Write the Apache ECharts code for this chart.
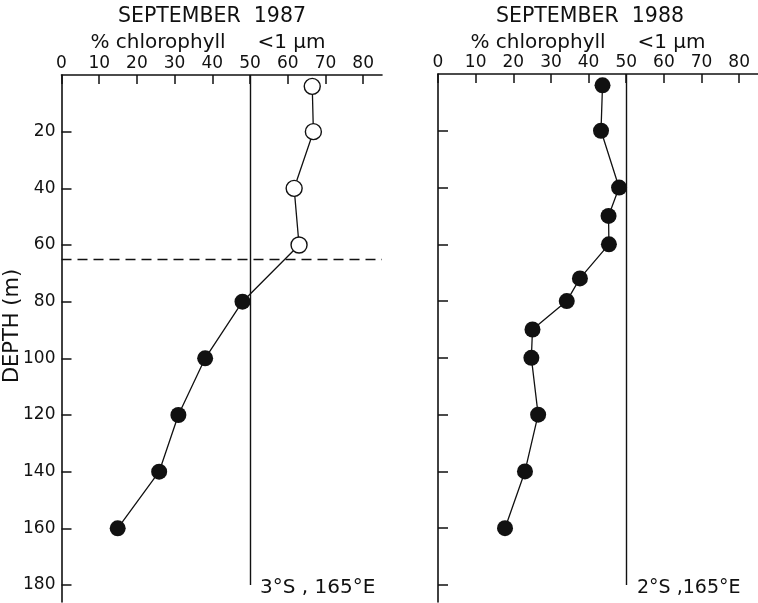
<!DOCTYPE html>
<html>
<head>
<meta charset="utf-8">
<script src="https://cdn.jsdelivr.net/npm/echarts@6/dist/echarts.min.js"></script>
<style>
html,body{margin:0;padding:0;background:#fff;}
#chart{width:758px;height:603px;}
</style>
</head>
<body>
<div id="chart"></div>
<script>
// ---- data ----
const depth1987 = [4, 20, 40, 60, 80, 100, 120, 140, 160];
const pct1987   = [66.5, 66.8, 61.7, 63.0, 48.0, 38.1, 31.0, 25.9, 14.9];
const open1987  = [true, true, true, true, false, false, false, false, false];

const depth1988 = [4, 20, 40, 50, 60, 72, 80, 90, 100, 120, 140, 160];
const pct1988   = [43.7, 43.3, 48.1, 45.3, 45.4, 37.7, 34.2, 25.1, 24.8, 26.6, 23.1, 17.8];

const xTicks = [0, 10, 20, 30, 40, 50, 60, 70, 80];
const yTicks = [20, 40, 60, 80, 100, 120, 140, 160, 180];
const refPct = 50;
const refDepthEnd = 180;
const mixedLayer1987 = 65;

const titles = ['SEPTEMBER  1987', 'SEPTEMBER  1988'];
const subTitle = '% chlorophyll     <1 μm';
const stations = ['3°S , 165°E', '2°S ,165°E'];

// ---- chart ----
const font = 'DejaVu Sans';
const black = '#111';

function xAxisDef(gi) {
  return {
    gridIndex: gi, type: 'value', position: 'top', min: 0, max: 85,
    axisLine: { show: true, onZero: false, lineStyle: { color: black, width: 1.6 } },
    axisTick: { show: true, inside: true, length: 9, customValues: xTicks, lineStyle: { color: black, width: 1.5 } },
    axisLabel: { show: true, customValues: xTicks, margin: 3, color: black, fontSize: 17, fontFamily: font },
    splitLine: { show: false }
  };
}
function yAxisDef(gi, labels) {
  return {
    gridIndex: gi, type: 'value', inverse: true, min: 0, max: 186, position: 'left',
    axisLine: { show: true, onZero: false, lineStyle: { color: black, width: 1.6 } },
    axisTick: { show: true, inside: true, length: 10, customValues: yTicks, lineStyle: { color: black, width: 1.5 } },
    axisLabel: { show: labels, customValues: yTicks, margin: 6, color: black, fontSize: 17, fontFamily: font },
    splitLine: { show: false }
  };
}

function pts(d, p, openArr) {
  return d.map((dep, i) => {
    const isOpen = openArr ? openArr[i] : false;
    return {
      value: [p[i], dep],
      itemStyle: isOpen
        ? { color: '#fff', borderColor: black, borderWidth: 1.4 }
        : { color: black, borderColor: black, borderWidth: 0 }
    };
  });
}

const refLine = {
  silent: true, symbol: ['none', 'none'], label: { show: false },
  lineStyle: { color: black, width: 1.4, type: 'solid' },
  data: [[{ coord: [refPct, 0] }, { coord: [refPct, refDepthEnd] }]]
};

function txt(s, x, y, size, align, extra) {
  return Object.assign({ type: 'text', x: x, y: y,
    style: { text: s, textAlign: align, textVerticalAlign: 'middle', font: size + 'px "' + font + '"', fill: black } }, extra || {});
}

const option = {
  animation: false,
  backgroundColor: '#fff',
  grid: [
    { left: 61.5, top: 75, width: 320.5, height: 527 },
    { left: 438, top: 74, width: 320, height: 528 }
  ],
  xAxis: [xAxisDef(0), xAxisDef(1)],
  yAxis: [yAxisDef(0, true), yAxisDef(1, false)],
  series: [
    {
      type: 'line', xAxisIndex: 0, yAxisIndex: 0,
      data: pts(depth1987, pct1987, open1987),
      symbol: 'circle', symbolSize: 16, z: 5,
      lineStyle: { color: black, width: 1.3 },
      markLine: {
        silent: true, symbol: ['none', 'none'], label: { show: false },
        data: [
          [{ coord: [refPct, 0], lineStyle: { color: black, width: 1.4, type: 'solid' } },
           { coord: [refPct, refDepthEnd] }],
          { yAxis: mixedLayer1987, lineStyle: { color: black, width: 1.3, type: [10, 6] } }
        ]
      }
    },
    {
      type: 'line', xAxisIndex: 1, yAxisIndex: 1,
      data: pts(depth1988, pct1988, null),
      symbol: 'circle', symbolSize: 16, z: 5,
      lineStyle: { color: black, width: 1.3 },
      markLine: refLine
    }
  ],
  graphic: [
    txt(titles[0], 212, 17, 20.5, 'center'),
    txt(subTitle, 208, 43, 20, 'center'),
    txt(titles[1], 590, 17, 20.5, 'center'),
    txt(subTitle, 588, 43, 20, 'center'),
    txt(stations[0], 260, 588, 20, 'left'),
    txt(stations[1], 637, 588, 19, 'left'),
    txt('DEPTH (m)', 13, 326, 21, 'center', { rotation: Math.PI / 2 })
  ]
};

const chart = echarts.init(document.getElementById('chart'), null, { renderer: 'canvas' });
chart.setOption(option);
</script>
</body>
</html>
